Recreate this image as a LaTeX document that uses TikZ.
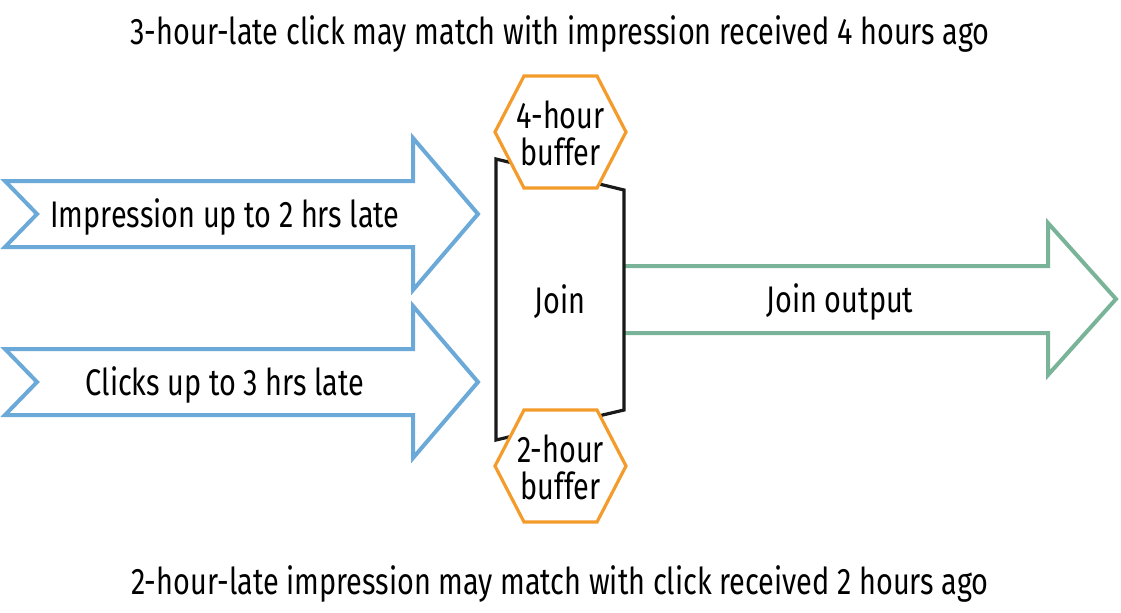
\documentclass[tikz,border=0pt]{standalone}
\usepackage{fontspec}
\setmainfont[FakeStretch=0.78]{Fira Sans}
\usepackage{xcolor}
\usepackage{tikz}
\usetikzlibrary{positioning, calc}
\definecolor{flowblue}{HTML}{6BAAD8}
\definecolor{flowgreen}{HTML}{7AB498}
\definecolor{bufforange}{HTML}{F39B2B}
\definecolor{joinedge}{HTML}{1A1A1A}

\begin{document}
\begin{tikzpicture}[
    x=0.5pt, y=-0.5pt,
    inflow/.style={draw=flowblue, line width=2pt, fill=white, line join=miter},
    outflow/.style={draw=flowgreen, line width=2pt, fill=white, line join=miter},
    buffer/.style={draw=bufforange, line width=1.6pt, fill=white, line join=miter},
    joinbox/.style={draw=joinedge, line width=1.6pt, fill=white},
    label/.style={font=\fontsize{18.5}{18.5}\selectfont, align=center, inner sep=0pt},
]
\useasboundingbox (0,0) rectangle (1121,612);

% Output arrow
\draw[outflow] (624,266) -- (1048,266) -- (1048,223) -- (1116,299)
    -- (1048,375) -- (1048,333) -- (624,333);
\node[label] (outtext) at (840,302) {Join output};

% Input arrows
\foreach \yc/\nm/\txt in {214/imptext/Impression up to 2 hrs late, 382/clktext/Clicks up to 3 hrs late} {
    \draw[inflow] (5,\yc-33) -- (413,\yc-33) -- (413,\yc-76) -- (478,\yc)
        -- (413,\yc+76) -- (413,\yc+33) -- (5,\yc+33) -- (37,\yc) -- cycle;
    \node[label] (\nm) at (225,\yc+3) {\txt};
}

% Join
\draw[joinbox] (496,159) -- (624,190) -- (624,410) -- (496,440) -- cycle;
\node[label] (join) at (560,302) {Join};

% Buffers
\foreach \yc/\nm/\txt in {132/buf4/4-hour, 466/buf2/2-hour} {
    \draw[buffer] (495,\yc) -- ++(29,-56) -- ++(73,0) -- ++(29,56)
        -- ++(-29,56) -- ++(-73,0) -- cycle;
    \node[label] (\nm) at (560.5,\yc+1) {\txt\\buffer};
}

% Captions
\node[label] (toptitle) at (560,34) {3-hour-late click may match with impression received 4 hours ago};
\node[label] (bottitle) at (560,584) {2-hour-late impression may match with click received 2 hours ago};

\end{tikzpicture}
\end{document}
